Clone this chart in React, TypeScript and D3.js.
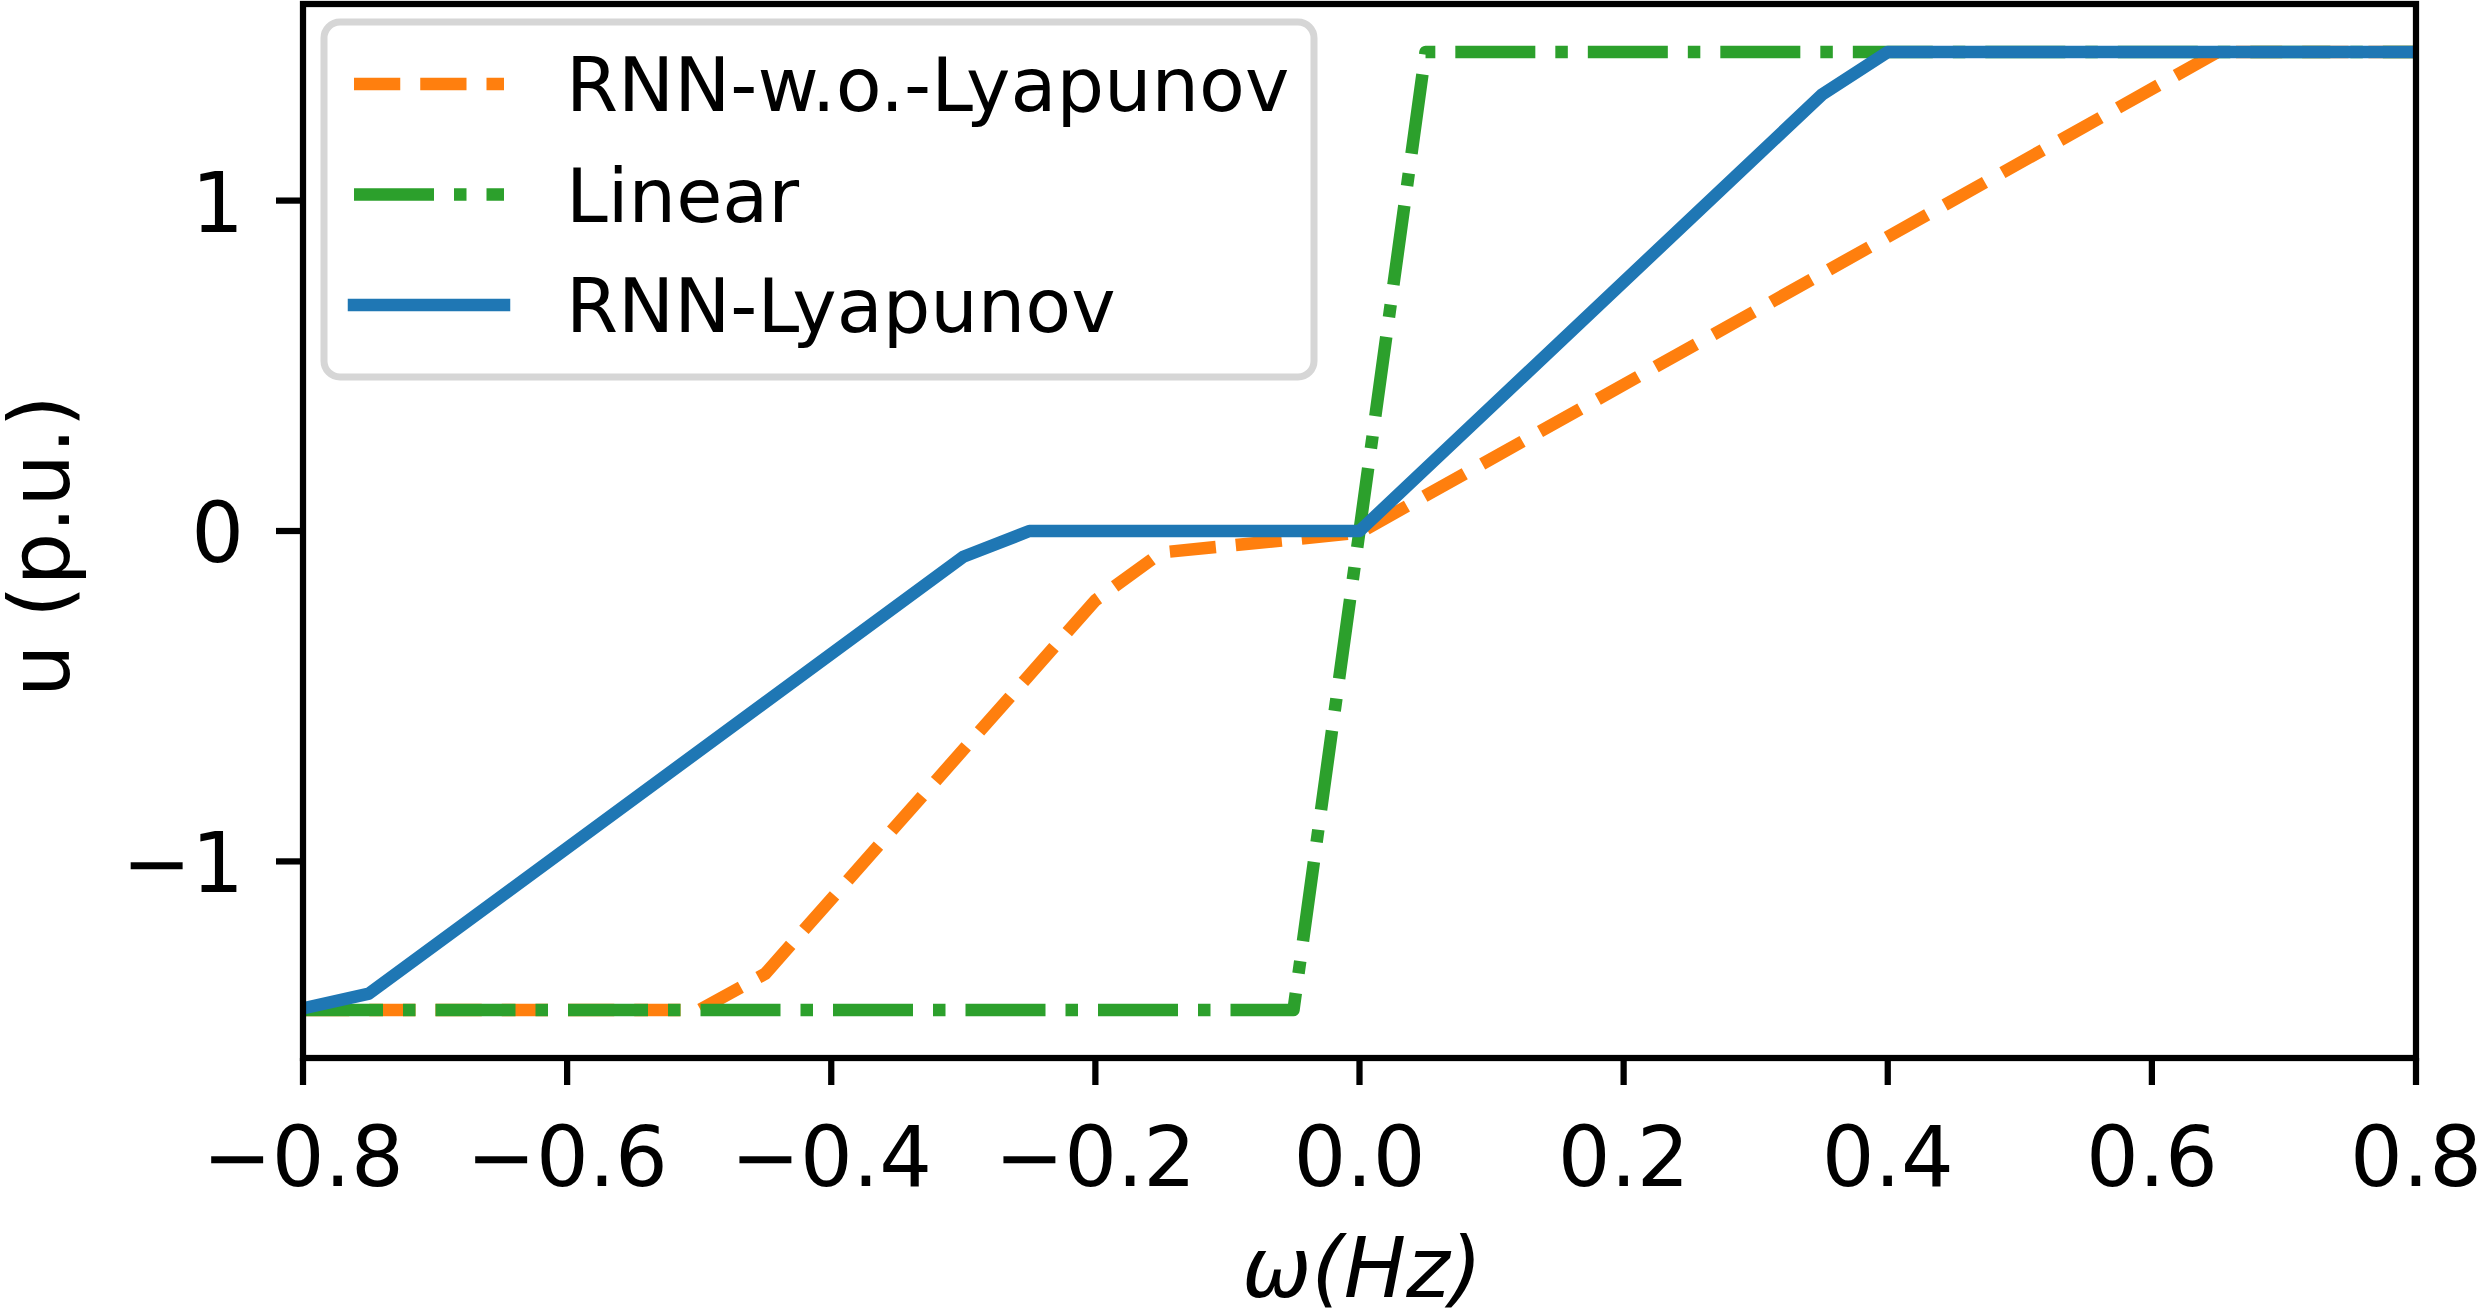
import React from "react";
import * as d3 from "d3";

const W = 2479;
const H = 1311;

// ---- data ----
const omegaOrange = [-0.8, -0.5, -0.45, -0.2, -0.15, -0.1, -0.05, 0.0, 0.65, 0.8];
const uOrange = [-1.45, -1.45, -1.34, -0.21, -0.065, -0.045, -0.025, -0.005, 1.45, 1.45];

const omegaLinear = [-0.8, -0.05, 0.05, 0.8];
const uLinear = [-1.45, -1.45, 1.45, 1.45];

const omegaBlue = [-0.8, -0.75, -0.3, -0.25, 0.0, 0.35, 0.4, 0.8];
const uBlue = [-1.445, -1.4, -0.078, 0.0, 0.0, 1.32, 1.45, 1.45];

const xTicks = [-0.8, -0.6, -0.4, -0.2, 0.0, 0.2, 0.4, 0.6, 0.8];
const yTicks = [-1, 0, 1];

const seriesNames = ["RNN-w.o.-Lyapunov", "Linear", "RNN-Lyapunov"];
const seriesColors = ["#ff7f0e", "#2ca02c", "#1f77b4"];

const xLabel = "ω(Hz)";
const yLabel = "u (p.u.)";

// ---- layout ----
const L = 303, R = 2416, T = 4, B = 1058;
const LW = 12.5;
const FONT = "DejaVu Sans, Liberation Sans, sans-serif";
const dashOrange = "46.25 20";
const dashGreen = "80 20 12.5 20";

export default function App() {
  const x = d3.scaleLinear().domain([-0.8, 0.8]).range([L, R]);
  const y = d3.scaleLinear().domain([-1.595, 1.595]).range([B, T]);
  const line = d3
    .line<[number, number]>()
    .x((d) => x(d[0]))
    .y((d) => y(d[1]));

  const zip = (a: number[], b: number[]) => a.map((v, i) => [v, b[i]] as [number, number]);

  const series = [
    { d: zip(omegaOrange, uOrange), dash: dashOrange, cap: "butt" },
    { d: zip(omegaLinear, uLinear), dash: dashGreen, cap: "butt" },
    { d: zip(omegaBlue, uBlue), dash: undefined, cap: "square" },
  ];

  const fmt = (v: number) => d3.format(".1f")(v).replace("-", "−");
  const fmtY = (v: number) => d3.format("d")(v).replace("-", "−");

  const legendRows = [84, 194.5, 305];

  return (
    <svg
      width={W}
      height={H}
      viewBox={`0 0 ${W} ${H}`}
      style={{ position: "absolute", left: 0, top: 0, display: "block", background: "#fff" }}
      fontFamily={FONT}
    >
      <defs>
        <clipPath id="axclip">
          <rect x={L} y={T} width={R - L} height={B - T} />
        </clipPath>
      </defs>
      <rect x={0} y={0} width={W} height={H} fill="#fff" />

      {/* lines */}
      <g clipPath="url(#axclip)">
        {series.map((s, i) => (
          <path
            key={i}
            d={line(s.d) || ""}
            fill="none"
            stroke={seriesColors[i]}
            strokeWidth={LW}
            strokeDasharray={s.dash}
            strokeLinecap={s.cap as any}
            strokeLinejoin="round"
          />
        ))}
      </g>

      {/* spines */}
      <rect x={L} y={T} width={R - L} height={B - T} fill="none" stroke="#000" strokeWidth={6.25} strokeLinejoin="miter" />

      {/* x ticks */}
      {xTicks.map((t) => (
        <g key={"x" + t}>
          <line x1={x(t)} x2={x(t)} y1={B} y2={B + 27} stroke="#000" strokeWidth={6.25} />
          <text x={x(t)} y={1186} fontSize={83} textAnchor="middle" fill="#000">
            {fmt(t)}
          </text>
        </g>
      ))}

      {/* y ticks */}
      {yTicks.map((t) => (
        <g key={"y" + t}>
          <line x1={L - 27} x2={L} y1={y(t)} y2={y(t)} stroke="#000" strokeWidth={6.25} />
          <text x={244} y={y(t) + 31} fontSize={83} textAnchor="end" fill="#000">
            {fmtY(t)}
          </text>
        </g>
      ))}

      {/* axis labels */}
      <text x={1362} y={1297} fontSize={83} textAnchor="middle" fontStyle="italic" fill="#000">
        {xLabel}
      </text>
      <text
        transform={`translate(69, 546) rotate(-90)`}
        fontSize={83}
        textAnchor="middle"
        fill="#000"
      >
        {yLabel}
      </text>

      {/* legend */}
      <g>
        <rect
          x={324}
          y={22}
          width={990}
          height={355}
          rx={16}
          ry={16}
          fill="#fff"
          fillOpacity={0.8}
          stroke="#d6d6d6"
          strokeWidth={7}
        />
        {seriesNames.map((name, i) => (
          <g key={name}>
            <line
              x1={354}
              x2={504}
              y1={legendRows[i]}
              y2={legendRows[i]}
              stroke={seriesColors[i]}
              strokeWidth={LW}
              strokeDasharray={series[i].dash}
              strokeLinecap={series[i].cap as any}
            />
            <text x={566} y={legendRows[i] + 27} fontSize={75} fill="#000">
              {name}
            </text>
          </g>
        ))}
      </g>
    </svg>
  );
}
